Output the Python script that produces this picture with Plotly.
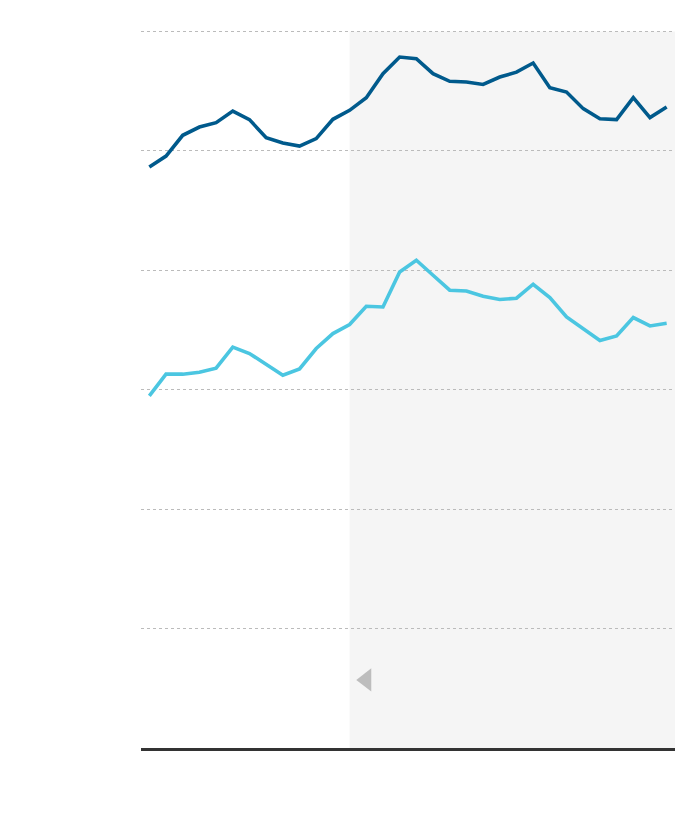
import plotly.graph_objects as go

periods = list(range(32))

dark_series = [48.64, 49.56, 51.30, 51.99, 52.36, 53.33, 52.61, 51.10, 50.65, 50.40,
               51.02, 52.64, 53.39, 54.45, 56.46, 57.85, 57.72, 56.46, 55.82, 55.76,
               55.56, 56.18, 56.59, 57.35, 55.29, 54.92, 53.53, 52.69, 52.61, 54.45,
               52.78, 53.67]

light_series = [29.48, 31.30, 31.30, 31.46, 31.80, 33.56, 33.03, 32.11, 31.21, 31.74,
                33.45, 34.70, 35.46, 36.99, 36.93, 39.86, 40.84, 39.58, 38.33, 38.27,
                37.82, 37.55, 37.66, 38.83, 37.72, 36.09, 35.09, 34.12, 34.50, 36.04,
                35.34, 35.56]

shade_start = 12
y_top = 60
marker_x = [13]
marker_y = [5.7]

fig = go.Figure()
fig.add_trace(go.Scatter(x=periods, y=dark_series, mode="lines",
                         line=dict(color="#005a8c", width=3.6), showlegend=False,
                         hoverinfo="skip"))
fig.add_trace(go.Scatter(x=periods, y=light_series, mode="lines",
                         line=dict(color="#4bc6e1", width=3.6), showlegend=False,
                         hoverinfo="skip"))
fig.add_trace(go.Scatter(x=marker_x, y=marker_y, mode="markers",
                         marker=dict(symbol="triangle-left", size=20, color="#bdbdbd"),
                         showlegend=False, hoverinfo="skip"))

fig.add_shape(type="rect", xref="x", yref="y", x0=shade_start, x1=31.5, y0=0, y1=y_top,
              fillcolor="#f5f5f5", line=dict(width=0), layer="below")

fig.update_layout(
    width=700, height=820,
    margin=dict(l=133, r=33, t=21, b=80),
    paper_bgcolor="white", plot_bgcolor="white",
    xaxis=dict(range=[-0.5, 31.5], showticklabels=False, showgrid=False, zeroline=False,
               showline=True, linecolor="#333333", linewidth=3, ticks=""),
    yaxis=dict(range=[0, 60.2], dtick=10, showticklabels=False, showgrid=True,
               gridcolor="#bbbbbb", gridwidth=1, griddash="dot", zeroline=False,
               showline=False, ticks=""),
)

fig.write_html("out.html")
